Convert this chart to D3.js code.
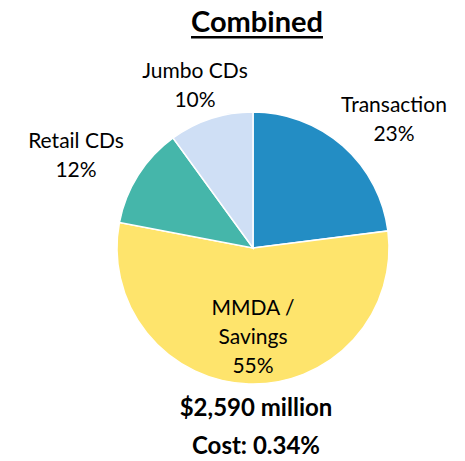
<!DOCTYPE html>
<html>
<head>
<meta charset="utf-8">
<script src="https://cdn.jsdelivr.net/npm/d3@7"></script>
<style>
  body { margin: 0; background: #fff; }
  text { font-family: Lato, "Open Sans", sans-serif; fill: #000; }
</style>
</head>
<body>
<svg id="chart" width="465" height="461"></svg>
<script>
var categories = ["Transaction", "MMDA / Savings", "Retail CDs", "Jumbo CDs"];
var shares = [23, 55, 12, 10];
var colors = ["#238dc4", "#fee46c", "#45b6aa", "#cfdff5"];
var title = "Combined";
var totalLabel = "$2,590 million";
var costLabel = "Cost: 0.34%";

// label lines and anchor spots
var labelLines = [["Transaction"], ["MMDA /", "Savings"], ["Retail CDs"], ["Jumbo CDs"]];
var labelPos = [[394, 112], [253, 315], [76, 148], [195, 78]];

var svg = d3.select("#chart");
var cx = 253, cy = 248, r = 136;

var pie = d3.pie().sort(null).value(d => d);
var arc = d3.arc().innerRadius(0).outerRadius(r);

var g = svg.append("g").attr("transform", "translate(" + cx + "," + cy + ")");
g.selectAll("path")
    .data(pie(shares))
    .enter()
    .append("path")
    .attr("d", arc)
    .attr("fill", (d, i) => colors[i])
    .attr("stroke", "#fff")
    .attr("stroke-width", 1.5);

// slice labels
categories.forEach((c, i) => {
    var lines = labelLines[i].concat([shares[i] + "%"]);
    var t = svg.append("text")
        .attr("text-anchor", "middle")
        .attr("font-size", 21);
    lines.forEach((s, j) => {
        t.append("tspan")
            .attr("x", labelPos[i][0])
            .attr("y", labelPos[i][1] + j * 29)
            .text(s);
    });
});

// title with underline
var tt = svg.append("text")
    .attr("x", 257)
    .attr("y", 32)
    .attr("text-anchor", "middle")
    .attr("font-size", 29)
    .attr("font-weight", "bold")
    .text(title);
var tw = tt.node().getComputedTextLength();
svg.append("rect")
    .attr("x", 257 - tw / 2)
    .attr("y", 36)
    .attr("width", tw)
    .attr("height", 2.5)
    .attr("fill", "#000");

svg.append("text")
    .attr("x", 256)
    .attr("y", 416)
    .attr("text-anchor", "middle")
    .attr("font-size", 24)
    .attr("font-weight", "bold")
    .text(totalLabel);

svg.append("text")
    .attr("x", 256)
    .attr("y", 454)
    .attr("text-anchor", "middle")
    .attr("font-size", 24)
    .attr("font-weight", "bold")
    .text(costLabel);
</script>
</body>
</html>
